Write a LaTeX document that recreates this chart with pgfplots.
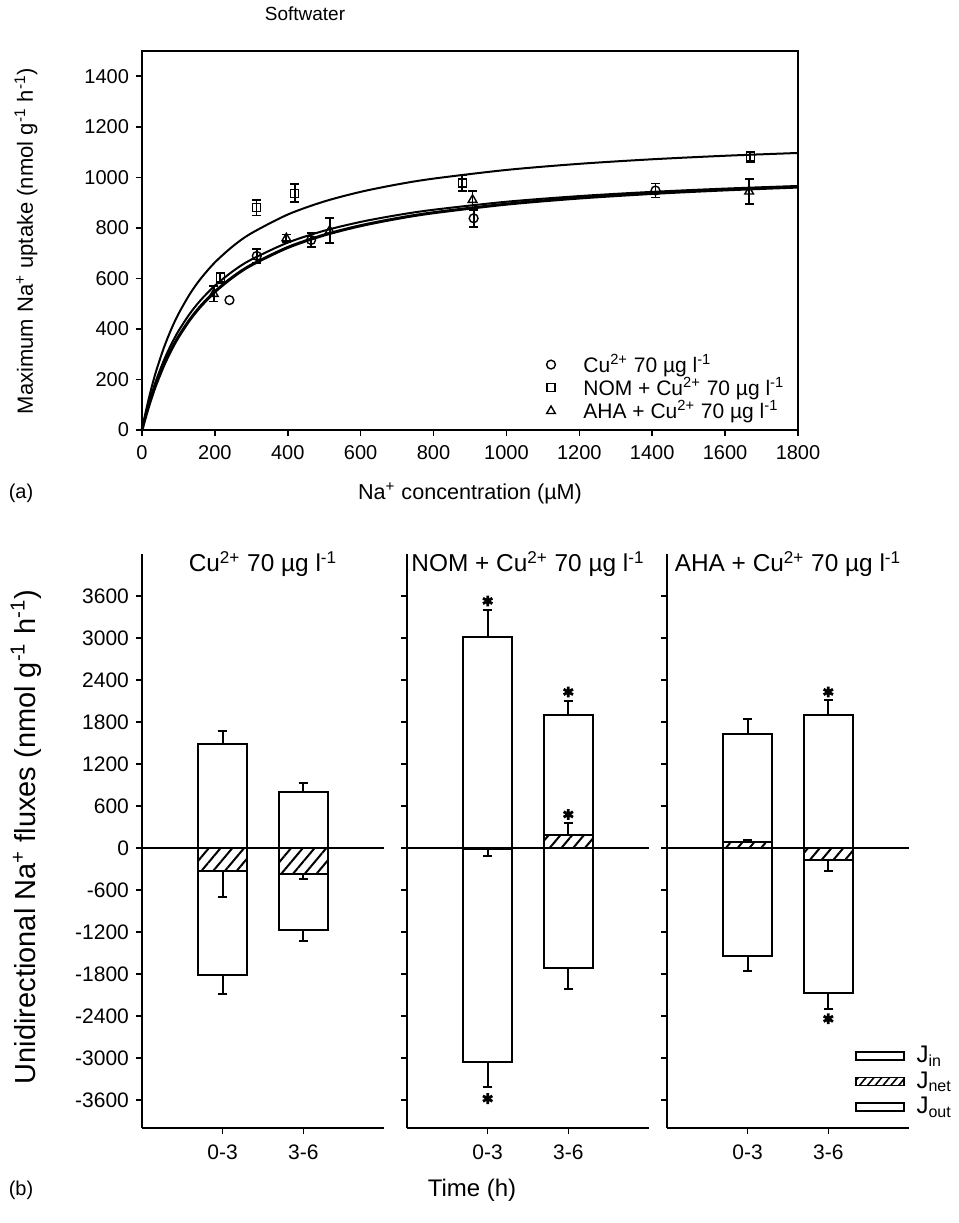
\documentclass[border=0pt]{standalone}
\usepackage{fontspec}
\setmainfont{Liberation Sans}
\usepackage{pgfplots}
\pgfplotsset{compat=1.18}
\usetikzlibrary{patterns.meta}

\newcommand{\ug}{70 µg l\textsuperscript{-1}}
\newcommand{\cu}{Cu\textsuperscript{2+}}

\pgfplotsset{
  common/.style={
    scale only axis, anchor=south west, clip=false,
    tick align=outside, major tick length=3pt,
    tick style={line width=0.8pt, black},
    /pgf/number format/assume math mode=true,
    /pgf/number format/1000 sep={},
  },
  panel/.style={
    common, width=121pt, height=287pt,
    xmin=0, xmax=3, ymin=-4000, ymax=4200,
    axis lines*=left, axis line style={line width=1pt},
    xtick={1,2}, xticklabels={0-3,3-6},
    ytick={-3600,-3000,...,3600},
    title style={at={(0.5,1)}, anchor=north, yshift=-1pt, font=\fontsize{12.2}{14}\selectfont},
    tick label style={font=\fontsize{10.5}{12}\selectfont},
    xticklabel style={yshift=-2pt},
  },
  jbar/.style={ybar, bar width=0.6, bar shift=0pt, draw=black, line width=1pt, fill=white,
    error bars/y explicit,
    error bars/error bar style={line width=1pt, solid},
    error bars/error mark options={rotate=90, mark size=2.4pt, line width=1pt}},
  jnet/.style={ybar, bar width=0.6, bar shift=0pt, draw=black, line width=1pt,
    pattern={Lines[angle=50, distance=4.5pt, line width=1pt]},
    error bars/y dir=both, error bars/y explicit,
    error bars/error bar style={line width=1pt, solid},
    error bars/error mark options={rotate=90, mark size=2.4pt, line width=1pt}},
  zero/.style={black, line width=1pt, no marks},
  star/.style={only marks, mark=asterisk, mark size=2.7pt, mark options={line width=1.4pt, black}},
  fit/.style={black, line width=1pt, smooth, no marks, forget plot},
  pts/.style={only marks, black, mark size=2.2pt, mark options={fill=white, line width=0.7pt},
    error bars/y dir=both, error bars/y explicit,
    error bars/error bar style={line width=0.9pt, solid},
    error bars/error mark options={rotate=90, mark size=2.2pt, line width=0.9pt}},
}

\begin{document}
\begin{tikzpicture}
\path[use as bounding box] (0,0) rectangle (479.5pt,-611.5pt);

% ---------- (a) ----------
\begin{axis}[
  common, at={(71pt,-215pt)}, width=328pt, height=189.5pt,
  xmin=0, xmax=1800, ymin=0, ymax=1500,
  xtick={0,200,...,1800}, ytick={0,200,...,1400},
  tick pos=left, axis line style={line width=0.8pt},
  tick label style={font=\fontsize{10}{11}\selectfont},
  xticklabel style={yshift=-1pt},
  legend style={draw=none, fill=none, at={(0.995,0.0)}, anchor=south east,
    font=\fontsize{10.5}{11}\selectfont, row sep=-3pt, cells={anchor=west}},
]
\addplot[fit] coordinates {
  (0,0) (5,36.18) (10,70.24) (20,132.67) (30,188.53) (40,238.8) (60,325.64)
  (80,398.0) (100,459.23) (130,535.24) (160,597.0) (200,663.33) (250,728.05)
  (300,778.70) (400,852.86) (500,904.55) (600,942.63) (700,971.86) (800,995.0)
  (1000,1029.31) (1200,1053.53) (1400,1071.54) (1600,1085.45) (1800,1096.53)};
\addplot[fit] coordinates {
  (0,0) (5,30.2) (10,58.72) (20,111.26) (30,158.55) (40,201.33) (60,275.74)
  (80,338.24) (100,391.48) (130,458.03) (160,512.48) (200,571.35) (250,629.17)
  (300,674.68) (400,741.75) (500,788.81) (600,823.64) (700,850.46) (800,871.75)
  (1000,903.42) (1200,925.84) (1400,942.55) (1600,955.48) (1800,965.79)};
\addplot[fit, line width=1.5pt] coordinates {
  (0,0) (5,27.51) (10,53.64) (20,102.12) (30,146.15) (40,186.32) (60,256.94)
  (80,317.01) (100,368.75) (130,434.15) (160,488.28) (200,547.42) (250,606.16)
  (300,652.87) (400,722.45) (500,771.80) (600,808.63) (700,837.16) (800,859.92)
  (1000,893.94) (1200,918.16) (1400,936.27) (1600,950.34) (1800,961.57)};

\addplot[pts, mark=o] coordinates {
  (315,689) +- (0,28) (464,752) +- (0,29) (910,838) +- (0,34) (1409,948) +- (0,28)};
\addlegendentry{\hspace{12pt}\cu{} \ug}
\addplot[pts, mark=square, mark size=2pt] coordinates {
  (215,603) +- (0,20) (314,880) +- (0,31) (419,937) +- (0,36)
  (879,977) +- (0,30) (1669,1082) +- (0,20)};
\addlegendentry{\hspace{12pt}NOM + \cu{} \ug}
\addplot[pts, mark=triangle, mark size=2.5pt] coordinates {
  (197,539) +- (0,30) (396,759) +- (0,15) (515,789) +- (0,50)
  (907,911) +- (0,35) (1666,944) +- (0,51)};
\addlegendentry{\hspace{12pt}AHA + \cu{} \ug}
\addplot[only marks, mark=o, mark size=2.2pt, mark options={fill=white, line width=0.7pt}, forget plot]
  coordinates {(240,514)};
\end{axis}

% ---------- (b) ----------
\begin{axis}[panel, at={(71pt,-564pt)}, title={\cu{} \ug}]
\addplot[jbar, error bars/y dir=plus] coordinates {(1,1480) +- (0,196) (2,794) +- (0,129)};
\addplot[jbar, error bars/y dir=minus] coordinates {(1,-1820) +- (0,261) (2,-1167) +- (0,162)};
\addplot[jnet] coordinates {(1,-329) += (0,0) -= (0,371) (2,-367) += (0,0) -= (0,72)};
\addplot[zero] coordinates {(0,0) (3,0)};
\end{axis}

\begin{axis}[panel, at={(203.5pt,-564pt)}, yticklabels={}, title={NOM + \cu{} \ug}]
\addplot[jbar, error bars/y dir=plus] coordinates {(1,3019) +- (0,375) (2,1900) +- (0,195)};
\addplot[jbar, error bars/y dir=minus] coordinates {(1,-3050) +- (0,370) (2,-1714) +- (0,296)};
\addplot[jnet] coordinates {(1,-20) += (0,0) -= (0,100) (2,180) += (0,177) -= (0,0)};
\addplot[zero] coordinates {(0,0) (3,0)};
\addplot[star] coordinates {(1,3530) (2,2230) (2,480) (1,-3580)};
\end{axis}

\begin{axis}[panel, at={(333.5pt,-564pt)}, yticklabels={}, title={AHA + \cu{} \ug},
  legend style={draw=none, fill=none, at={(0.775,0.15)}, anchor=north west,
    font=\fontsize{12}{13}\selectfont, row sep=-1pt, inner sep=0pt,
    cells={anchor=west}},
  legend image code/.code={\draw[#1, line width=0.8pt] (0pt,-2pt) rectangle (24pt,2pt);},
]
\addplot[jbar, error bars/y dir=plus, forget plot] coordinates {(1,1623) +- (0,220) (2,1904) +- (0,215)};
\addplot[jbar, error bars/y dir=minus, forget plot] coordinates {(1,-1543) +- (0,214) (2,-2067) +- (0,229)};
\addplot[jnet, forget plot] coordinates {(1,80) += (0,39) -= (0,0) (2,-177) += (0,0) -= (0,152)};
\addplot[zero, forget plot] coordinates {(0,0) (3,0)};
\addplot[star, forget plot] coordinates {(2,2230) (2,-2440)};
\addlegendimage{fill=white, draw=black}
\addlegendentry{\hspace{4pt}J\textsubscript{in}}
\addlegendimage{draw=black, pattern={Lines[angle=50, distance=3pt, line width=0.8pt]}}
\addlegendentry{\hspace{4pt}J\textsubscript{net}}
\addlegendimage{fill=white, draw=black}
\addlegendentry{\hspace{4pt}J\textsubscript{out}}
\end{axis}

% ---------- labels ----------
\begin{scope}[x=0.5pt, y=-0.5pt]
\node[font=\fontsize{9.5}{11}\selectfont] at (305,14) {Softwater};
\node[rotate=90, font=\fontsize{11}{13}\selectfont] at (26,241)
  {Maximum Na\textsuperscript{+} uptake (nmol g\textsuperscript{-1} h\textsuperscript{-1})};
\node[font=\fontsize{10.8}{12}\selectfont] at (470,493) {Na\textsuperscript{+} concentration (µM)};
\node[font=\fontsize{10}{11}\selectfont] at (21,493) {(a)};
\node[rotate=90, font=\fontsize{14.5}{16}\selectfont] at (26,837)
  {Unidirectional Na\textsuperscript{+} fluxes (nmol g\textsuperscript{-1} h\textsuperscript{-1})};
\node[font=\fontsize{12}{13}\selectfont] at (472,1190) {Time (h)};
\node[font=\fontsize{10}{11}\selectfont] at (21,1190) {(b)};
\end{scope}
\end{tikzpicture}
\end{document}
